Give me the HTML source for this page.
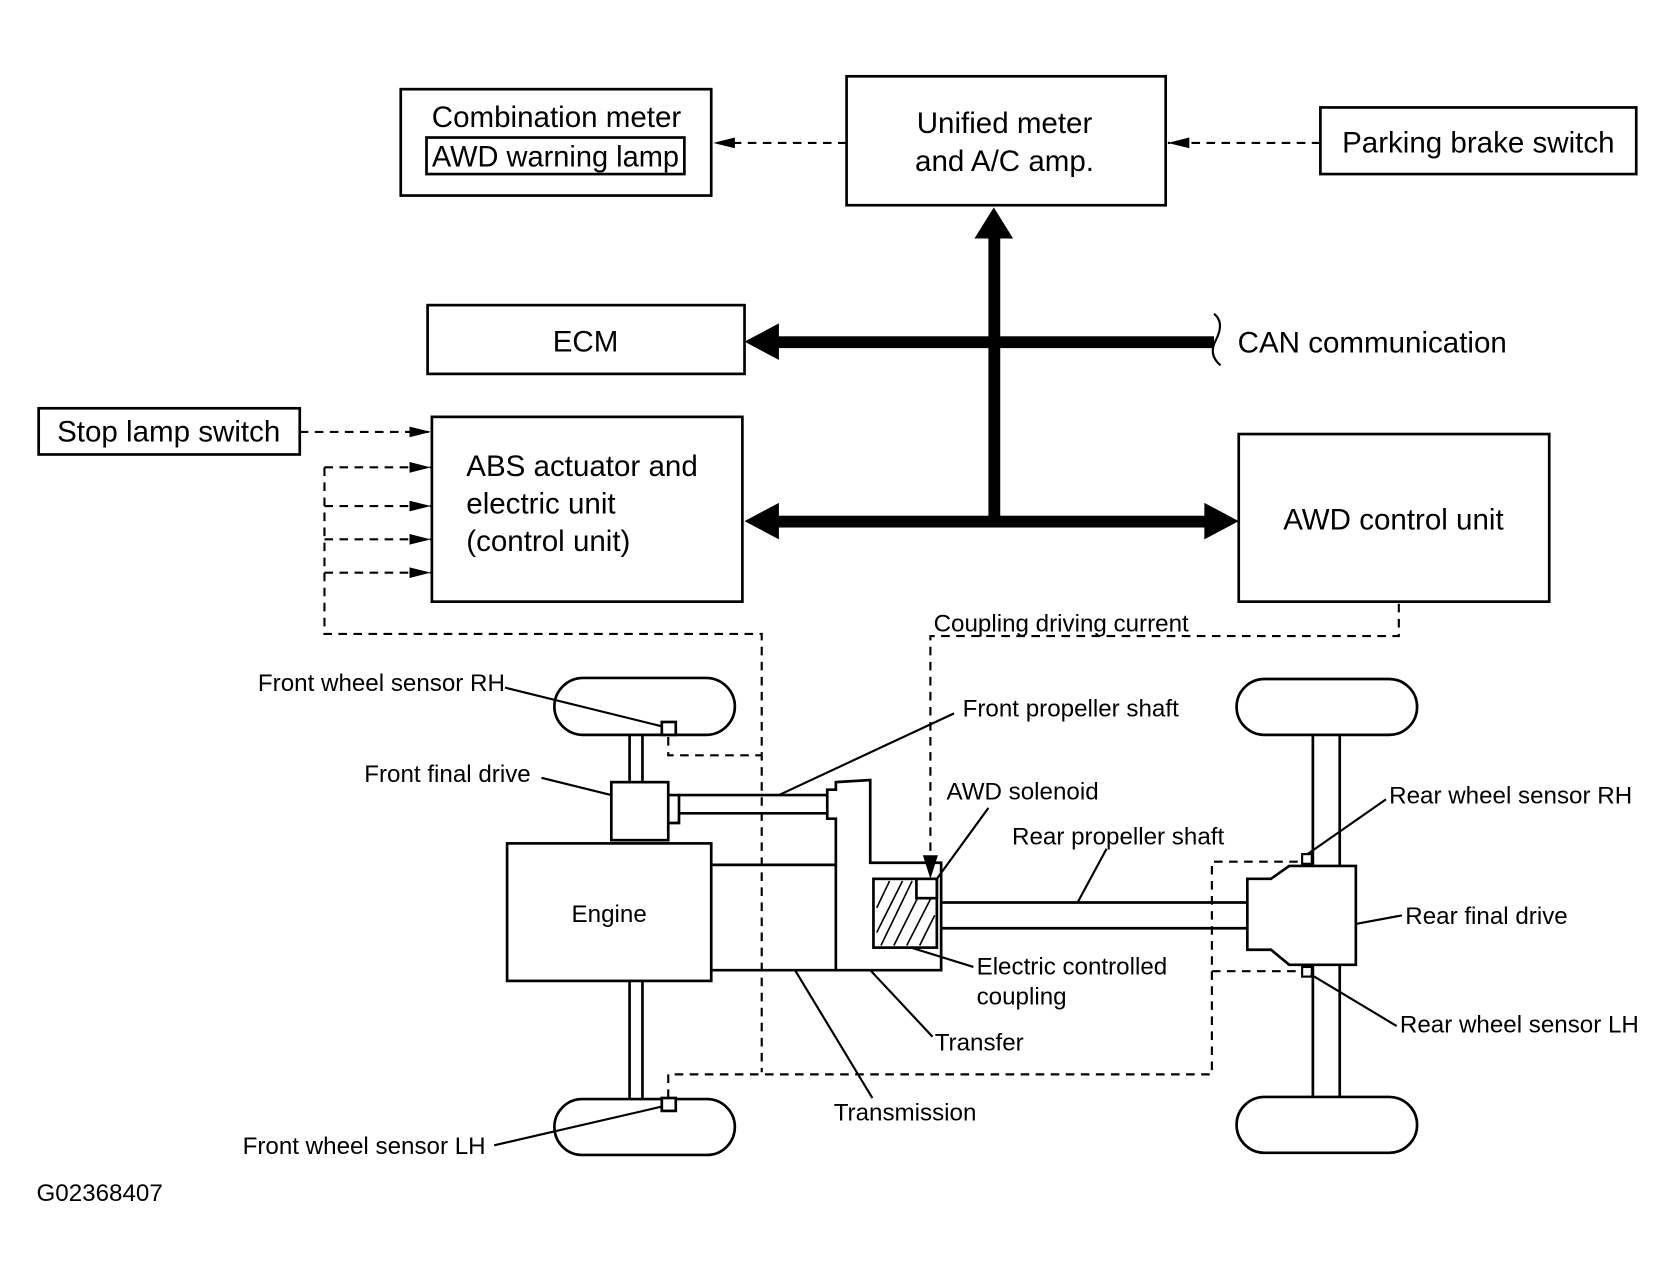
<!DOCTYPE html>
<html><head><meta charset="utf-8"><style>html,body{margin:0;padding:0;background:#fff}svg{display:block}</style></head>
<body>
<svg width="1676" height="1271" viewBox="0 0 1560 1183" xmlns="http://www.w3.org/2000/svg" font-family="'Liberation Sans', Arial, sans-serif">
<defs>
<marker id="ah" markerWidth="20" markerHeight="12" refX="20" refY="6" orient="auto" markerUnits="userSpaceOnUse"><path d="M0,1 L20,6 L0,11 z"/></marker>
</defs>
<g fill="none" stroke="#000" stroke-width="2.5">
<rect x="373" y="83" width="289" height="99"/>
<rect x="397" y="128" width="240" height="34"/>
<rect x="788" y="71" width="297" height="120"/>
<rect x="1229" y="100" width="294" height="62"/>
<rect x="398" y="284" width="295" height="64"/>
<rect x="402" y="388" width="289" height="172"/>
<rect x="1153" y="404" width="289" height="156"/>
<rect x="36" y="380" width="243" height="43"/>
</g>
<g fill="#000" font-size="27.5">
<text x="518" y="118" text-anchor="middle">Combination meter</text>
<text x="402" y="155" textLength="230" lengthAdjust="spacingAndGlyphs">AWD warning lamp</text>
<text x="935" y="124" text-anchor="middle">Unified meter</text>
<text x="935" y="159" text-anchor="middle">and A/C amp.</text>
<text x="1376" y="142" text-anchor="middle">Parking brake switch</text>
<text x="545" y="327" text-anchor="middle">ECM</text>
<text x="1152" y="328">CAN communication</text>
<text x="434" y="443">ABS actuator and</text>
<text x="434" y="478">electric unit</text>
<text x="434" y="513">(control unit)</text>
<text x="1297" y="493" text-anchor="middle">AWD control unit</text>
<text x="157" y="411" text-anchor="middle">Stop lamp switch</text>
</g>
<g fill="#000" stroke="none">
<rect x="920" y="220" width="11" height="268"/>
<polygon points="925,193 943,222 907,222"/>
<rect x="722" y="313" width="408" height="11"/>
<polygon points="693,318 725,301 725,335"/>
<rect x="722" y="480" width="400" height="11"/>
<polygon points="693,485 725,468 725,502"/>
<polygon points="1153,485 1121,468 1121,502"/>
</g>
<path d="M1130,292 Q1140,300 1132,316 Q1124,330 1136,340" fill="none" stroke="#000" stroke-width="2"/>
<g fill="none" stroke="#000" stroke-width="2" stroke-dasharray="8,6">
<line x1="788" y1="133" x2="664" y2="133" marker-end="url(#ah)"/>
<line x1="1229" y1="133" x2="1087" y2="133" marker-end="url(#ah)"/>
<line x1="279" y1="402" x2="401" y2="402" marker-end="url(#ah)"/>
<polyline points="302,435 302,590 709,590 709,998"/>
<line x1="302" y1="435" x2="401" y2="435" marker-end="url(#ah)"/>
<line x1="302" y1="471" x2="401" y2="471" marker-end="url(#ah)"/>
<line x1="302" y1="502" x2="401" y2="502" marker-end="url(#ah)"/>
<line x1="302" y1="533" x2="401" y2="533" marker-end="url(#ah)"/>
<polyline points="622,686 622,703 709,703"/>
<polyline points="622,1022 622,1000 1128,1000 1128,802 1213,802"/>
<line x1="1128" y1="904" x2="1213" y2="904"/>
<polyline points="1302,562 1302,592 866,592 866,805"/>
</g>
<polygon points="866,818 859,796 873,796" fill="#000"/>
<text x="869" y="588" font-size="22.5">Coupling driving current</text>
<g fill="none" stroke="#000" stroke-width="2.5">
<rect x="516" y="631" width="168" height="53" rx="27"/>
<rect x="516" y="1023" width="168" height="52" rx="26"/>
<rect x="1151" y="632" width="168" height="52" rx="26"/>
<rect x="1151" y="1021" width="168" height="52" rx="26"/>
<line x1="586" y1="684" x2="586" y2="728"/><line x1="598" y1="684" x2="598" y2="728"/>
<line x1="586" y1="913" x2="586" y2="1023"/><line x1="598" y1="913" x2="598" y2="1023"/>
<line x1="1222" y1="684" x2="1222" y2="806"/><line x1="1247" y1="684" x2="1247" y2="806"/>
<line x1="1222" y1="898" x2="1222" y2="1021"/><line x1="1247" y1="898" x2="1247" y2="1021"/>
<rect x="569" y="728" width="53" height="54" fill="#fff"/>
<polyline points="622,740 632,740 632,766 622,766"/>
<line x1="632" y1="740" x2="770" y2="740"/><line x1="632" y1="757" x2="770" y2="757"/>
<polygon points="778,728 810,726 810,803 876,803 876,903 778,903 778,762 770,762 770,735 778,735"/>
<rect x="472" y="785" width="190" height="128"/>
<polyline points="662,805 778,805"/><polyline points="662,903 778,903"/>
<line x1="876" y1="840" x2="1161" y2="840"/><line x1="876" y1="864" x2="1161" y2="864"/>
<polygon points="1161,818 1183,818 1200,806 1262,806 1262,898 1200,898 1183,884 1161,884" fill="#fff"/>
<rect x="813" y="818" width="59" height="64"/>
<rect x="616" y="672" width="13" height="12" fill="#fff"/>
<rect x="616" y="1022" width="13" height="12" fill="#fff"/>
<rect x="1212" y="795" width="9" height="9" fill="#fff" stroke-width="2"/>
<rect x="1212" y="900" width="9" height="9" fill="#fff" stroke-width="2"/>
</g>
<g stroke="#000" stroke-width="1.5">
<line x1="816" y1="845" x2="828" y2="820"/><line x1="816" y1="868" x2="840" y2="820"/>
<line x1="820" y1="880" x2="849" y2="820"/><line x1="832" y1="880" x2="856" y2="832"/>
<line x1="844" y1="880" x2="866" y2="837"/><line x1="856" y1="880" x2="870" y2="852"/>
</g>
<rect x="853" y="818" width="19" height="18" fill="#fff" stroke="#000" stroke-width="2.5"/>
<g stroke="#000" stroke-width="2">
<line x1="470" y1="640" x2="616" y2="676"/>
<line x1="504" y1="724" x2="569" y2="740"/>
<line x1="888" y1="664" x2="725" y2="740"/>
<line x1="920" y1="752" x2="872" y2="818"/>
<line x1="1030" y1="790" x2="1003" y2="840"/>
<line x1="1290" y1="744" x2="1217" y2="795"/>
<line x1="1305" y1="852" x2="1262" y2="860"/>
<line x1="1300" y1="955" x2="1220" y2="907"/>
<line x1="906" y1="900" x2="848" y2="882"/>
<line x1="868" y1="965" x2="810" y2="903"/>
<line x1="812" y1="1022" x2="740" y2="903"/>
<line x1="460" y1="1066" x2="616" y2="1030"/>
</g>
<g fill="#000" font-size="22.5">
<text x="470" y="643" text-anchor="end">Front wheel sensor RH</text>
<text x="494" y="728" text-anchor="end">Front final drive</text>
<text x="896" y="667">Front propeller shaft</text>
<text x="881" y="744">AWD solenoid</text>
<text x="942" y="786">Rear propeller shaft</text>
<text x="1293" y="748">Rear wheel sensor RH</text>
<text x="567" y="858" text-anchor="middle">Engine</text>
<text x="1308" y="860">Rear final drive</text>
<text x="909" y="907">Electric controlled</text>
<text x="909" y="935">coupling</text>
<text x="1303" y="961">Rear wheel sensor LH</text>
<text x="870" y="978">Transfer</text>
<text x="776" y="1043">Transmission</text>
<text x="452" y="1074" text-anchor="end">Front wheel sensor LH</text>
<text x="34" y="1118">G02368407</text>
</g>
</svg>
</body></html>
